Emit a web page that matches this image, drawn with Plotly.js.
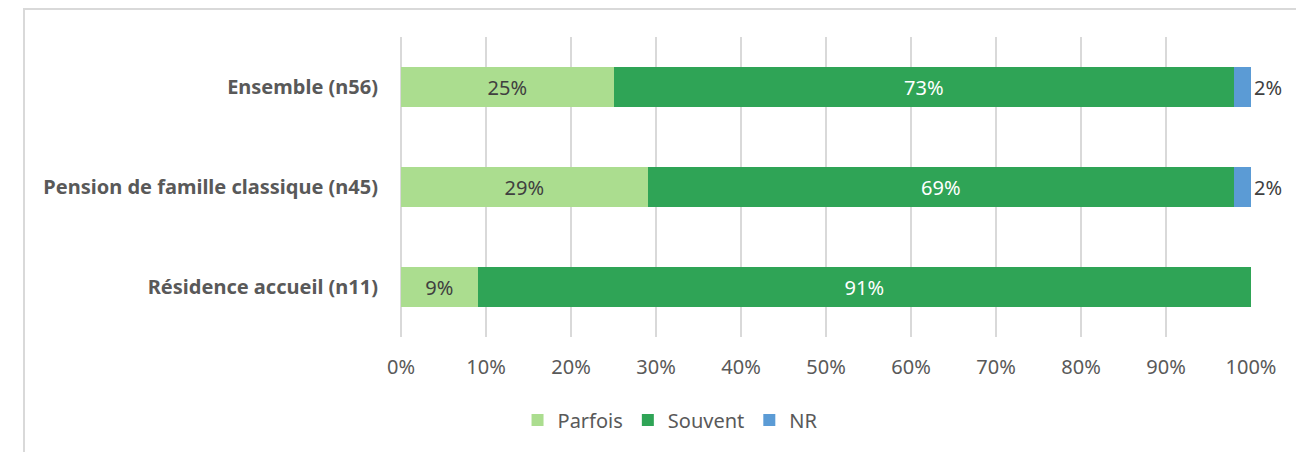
<!DOCTYPE html>
<html>
<head>
<meta charset="utf-8">
<script src="https://cdn.plot.ly/plotly-3.0.1.min.js"></script>
<style>
  html, body { margin: 0; padding: 0; background: #ffffff; }
  #wrap { position: relative; width: 1296px; height: 452px; overflow: hidden; }
  #chart { width: 1296px; height: 452px; }
  #frame { position: absolute; left: 23px; top: 8px; width: 1400px; height: 600px;
           border-left: 2px solid #d9d9d9; border-top: 2px solid #d9d9d9; pointer-events: none; }
</style>
</head>
<body>
<div id="wrap">
  <div id="chart"></div>
  <div id="frame"></div>
</div>
<script>
// Categories (top to bottom)
const categories = ["Ensemble (n56)", "Pension de famille classique (n45)", "Résidence accueil (n11)"];
// Series values (%)
const parfois = [25, 29, 9];
const souvent = [73, 69, 91];
const nr = [2, 2, 0];
const seriesNames = ["Parfois", "Souvent", "NR"];
const tickVals = [0, 10, 20, 30, 40, 50, 60, 70, 80, 90, 100];
const tickText = ["0%", "10%", "20%", "30%", "40%", "50%", "60%", "70%", "80%", "90%", "100%"];

const FONT = "Noto Sans, Open Sans, sans-serif";
const lbl = arr => arr.map(v => v > 0 ? Math.round(v) + "%" : "");

const traces = [
  {
    type: "bar", orientation: "h", name: seriesNames[0],
    y: categories, x: parfois, text: lbl(parfois), textposition: "inside",
    insidetextanchor: "middle", textangle: 0, constraintext: "none",
    textfont: { family: FONT, size: 20, color: "#404040" },
    marker: { color: "#abdd8f" }, width: 0.4, cliponaxis: false
  },
  {
    type: "bar", orientation: "h", name: seriesNames[1],
    y: categories, x: souvent, text: lbl(souvent), textposition: "inside",
    insidetextanchor: "middle", textangle: 0, constraintext: "none",
    textfont: { family: FONT, size: 20, color: "#ffffff" },
    marker: { color: "#2fa456" }, width: 0.4, cliponaxis: false
  },
  {
    type: "bar", orientation: "h", name: seriesNames[2],
    y: categories, x: nr, text: lbl(nr), textposition: "outside",
    textangle: 0, constraintext: "none",
    textfont: { family: FONT, size: 20, color: "#404040" },
    marker: { color: "#5b9bd5" }, width: 0.4, cliponaxis: false
  }
];

const layout = {
  width: 1296, height: 452,
  paper_bgcolor: "#ffffff", plot_bgcolor: "#ffffff",
  barmode: "stack",
  margin: { l: 401, r: 45, t: 37, b: 115, pad: 0 },
  showlegend: true,
  font: { family: FONT, size: 20, color: "#595959" },
  xaxis: {
    range: [0, 100], tickvals: tickVals, ticktext: tickText,
    showgrid: true, gridcolor: "#d9d9d9", gridwidth: 2,
    zeroline: true, zerolinecolor: "#d9d9d9", zerolinewidth: 2,
    showline: false, ticks: "", ticklabelstandoff: 16,
    tickfont: { family: FONT, size: 20, color: "#595959" },
    fixedrange: true
  },
  yaxis: {
    categoryorder: "array", categoryarray: categories.slice().reverse(),
    range: [-0.5, 2.5], showgrid: false, zeroline: false, showline: false,
    ticks: "", ticklabelstandoff: 22,
    tickfont: { family: FONT, size: 20, color: "#595959", weight: "bold" },
    fixedrange: true
  },
  legend: {
    orientation: "h", xref: "container", yref: "container",
    x: 0.517, xanchor: "center", y: 0.071, yanchor: "middle",
    font: { family: FONT, size: 20, color: "#595959" },
    itemwidth: 30, traceorder: "normal"
  },
  hovermode: false
};

Plotly.newPlot("chart", traces, layout, { displayModeBar: false, staticPlot: true });
</script>
</body>
</html>
